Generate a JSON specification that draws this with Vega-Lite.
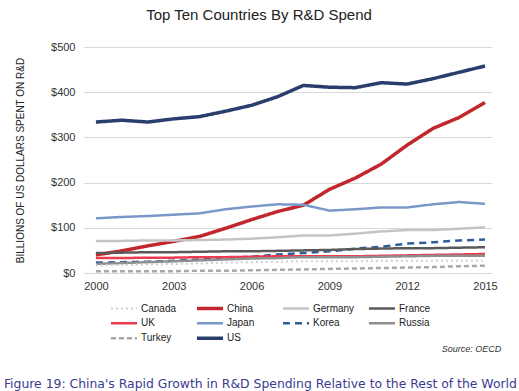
{
  "$schema": "https://vega.github.io/schema/vega-lite/v6.json",
  "background": "white",
  "padding": {"left": 3, "top": 8, "right": 2, "bottom": 2},
  "config": {"font": "Liberation Sans", "view": {"stroke": null}},
  "title": {"text": "Figure 19: China's Rapid Growth in R&D Spending Relative to the Rest of the World", "orient": "bottom", "anchor": "middle", "font": "DejaVu Sans", "fontSize": 12.4, "fontWeight": "normal", "color": "#3b3b8f", "offset": 24, "dx": 2},
  "vconcat": [
    {
      "title": {"text": "Source: OECD", "orient": "bottom", "anchor": "end", "fontSize": 9, "fontStyle": "italic", "fontWeight": "normal", "color": "#333333", "offset": 54, "dx": 4},
      "vconcat": [
        {
          "width": 408,
          "height": 226,
          "title": {"text": "Top Ten Countries By R&D Spend", "anchor": "middle", "fontSize": 15, "fontWeight": "normal", "color": "#222222", "offset": 18, "dx": -29},
          "data": {"values": [
            {"country":"US","year":2000,"value":334},{"country":"US","year":2001,"value":338},{"country":"US","year":2002,"value":334},{"country":"US","year":2003,"value":341},{"country":"US","year":2004,"value":346},{"country":"US","year":2005,"value":358},{"country":"US","year":2006,"value":371},{"country":"US","year":2007,"value":390},{"country":"US","year":2008,"value":415},{"country":"US","year":2009,"value":411},{"country":"US","year":2010,"value":410},{"country":"US","year":2011,"value":421},{"country":"US","year":2012,"value":418},{"country":"US","year":2013,"value":430},{"country":"US","year":2014,"value":444},{"country":"US","year":2015,"value":458},
            {"country":"China","year":2000,"value":40},{"country":"China","year":2001,"value":49},{"country":"China","year":2002,"value":60},{"country":"China","year":2003,"value":70},{"country":"China","year":2004,"value":81},{"country":"China","year":2005,"value":99},{"country":"China","year":2006,"value":118},{"country":"China","year":2007,"value":136},{"country":"China","year":2008,"value":150},{"country":"China","year":2009,"value":185},{"country":"China","year":2010,"value":210},{"country":"China","year":2011,"value":241},{"country":"China","year":2012,"value":283},{"country":"China","year":2013,"value":320},{"country":"China","year":2014,"value":344},{"country":"China","year":2015,"value":377},
            {"country":"Japan","year":2000,"value":121},{"country":"Japan","year":2001,"value":124},{"country":"Japan","year":2002,"value":126},{"country":"Japan","year":2003,"value":129},{"country":"Japan","year":2004,"value":132},{"country":"Japan","year":2005,"value":141},{"country":"Japan","year":2006,"value":147},{"country":"Japan","year":2007,"value":152},{"country":"Japan","year":2008,"value":151},{"country":"Japan","year":2009,"value":138},{"country":"Japan","year":2010,"value":141},{"country":"Japan","year":2011,"value":145},{"country":"Japan","year":2012,"value":145},{"country":"Japan","year":2013,"value":152},{"country":"Japan","year":2014,"value":157},{"country":"Japan","year":2015,"value":153},
            {"country":"Germany","year":2000,"value":71},{"country":"Germany","year":2001,"value":71},{"country":"Germany","year":2002,"value":72},{"country":"Germany","year":2003,"value":72},{"country":"Germany","year":2004,"value":73},{"country":"Germany","year":2005,"value":74},{"country":"Germany","year":2006,"value":76},{"country":"Germany","year":2007,"value":79},{"country":"Germany","year":2008,"value":83},{"country":"Germany","year":2009,"value":83},{"country":"Germany","year":2010,"value":87},{"country":"Germany","year":2011,"value":92},{"country":"Germany","year":2012,"value":95},{"country":"Germany","year":2013,"value":95},{"country":"Germany","year":2014,"value":98},{"country":"Germany","year":2015,"value":101},
            {"country":"Korea","year":2000,"value":23},{"country":"Korea","year":2001,"value":24},{"country":"Korea","year":2002,"value":25},{"country":"Korea","year":2003,"value":27},{"country":"Korea","year":2004,"value":30},{"country":"Korea","year":2005,"value":33},{"country":"Korea","year":2006,"value":36},{"country":"Korea","year":2007,"value":41},{"country":"Korea","year":2008,"value":44},{"country":"Korea","year":2009,"value":48},{"country":"Korea","year":2010,"value":54},{"country":"Korea","year":2011,"value":58},{"country":"Korea","year":2012,"value":65},{"country":"Korea","year":2013,"value":68},{"country":"Korea","year":2014,"value":72},{"country":"Korea","year":2015,"value":74},
            {"country":"France","year":2000,"value":44},{"country":"France","year":2001,"value":45},{"country":"France","year":2002,"value":46},{"country":"France","year":2003,"value":46},{"country":"France","year":2004,"value":47},{"country":"France","year":2005,"value":48},{"country":"France","year":2006,"value":48},{"country":"France","year":2007,"value":49},{"country":"France","year":2008,"value":50},{"country":"France","year":2009,"value":51},{"country":"France","year":2010,"value":53},{"country":"France","year":2011,"value":54},{"country":"France","year":2012,"value":55},{"country":"France","year":2013,"value":55},{"country":"France","year":2014,"value":56},{"country":"France","year":2015,"value":57},
            {"country":"UK","year":2000,"value":33},{"country":"UK","year":2001,"value":33},{"country":"UK","year":2002,"value":34},{"country":"UK","year":2003,"value":34},{"country":"UK","year":2004,"value":35},{"country":"UK","year":2005,"value":35},{"country":"UK","year":2006,"value":36},{"country":"UK","year":2007,"value":37},{"country":"UK","year":2008,"value":37},{"country":"UK","year":2009,"value":37},{"country":"UK","year":2010,"value":37},{"country":"UK","year":2011,"value":38},{"country":"UK","year":2012,"value":39},{"country":"UK","year":2013,"value":40},{"country":"UK","year":2014,"value":41},{"country":"UK","year":2015,"value":42},
            {"country":"Russia","year":2000,"value":20},{"country":"Russia","year":2001,"value":22},{"country":"Russia","year":2002,"value":24},{"country":"Russia","year":2003,"value":26},{"country":"Russia","year":2004,"value":28},{"country":"Russia","year":2005,"value":30},{"country":"Russia","year":2006,"value":32},{"country":"Russia","year":2007,"value":33},{"country":"Russia","year":2008,"value":35},{"country":"Russia","year":2009,"value":35},{"country":"Russia","year":2010,"value":35},{"country":"Russia","year":2011,"value":36},{"country":"Russia","year":2012,"value":37},{"country":"Russia","year":2013,"value":38},{"country":"Russia","year":2014,"value":38},{"country":"Russia","year":2015,"value":38},
            {"country":"Canada","year":2000,"value":17},{"country":"Canada","year":2001,"value":18},{"country":"Canada","year":2002,"value":19},{"country":"Canada","year":2003,"value":20},{"country":"Canada","year":2004,"value":21},{"country":"Canada","year":2005,"value":23},{"country":"Canada","year":2006,"value":24},{"country":"Canada","year":2007,"value":25},{"country":"Canada","year":2008,"value":26},{"country":"Canada","year":2009,"value":26},{"country":"Canada","year":2010,"value":26},{"country":"Canada","year":2011,"value":27},{"country":"Canada","year":2012,"value":27},{"country":"Canada","year":2013,"value":27},{"country":"Canada","year":2014,"value":27},{"country":"Canada","year":2015,"value":27},
            {"country":"Turkey","year":2000,"value":4},{"country":"Turkey","year":2001,"value":4},{"country":"Turkey","year":2002,"value":4},{"country":"Turkey","year":2003,"value":4},{"country":"Turkey","year":2004,"value":5},{"country":"Turkey","year":2005,"value":5},{"country":"Turkey","year":2006,"value":6},{"country":"Turkey","year":2007,"value":7},{"country":"Turkey","year":2008,"value":8},{"country":"Turkey","year":2009,"value":9},{"country":"Turkey","year":2010,"value":10},{"country":"Turkey","year":2011,"value":11},{"country":"Turkey","year":2012,"value":12},{"country":"Turkey","year":2013,"value":13},{"country":"Turkey","year":2014,"value":15},{"country":"Turkey","year":2015,"value":16}
          ]},
          "mark": {"type": "line", "strokeCap": "butt"},
          "encoding": {
            "x": {"field": "year", "type": "quantitative",
              "scale": {"domain": [1999.54, 2015.27], "nice": false, "zero": false},
              "axis": {"values": [2000, 2003, 2006, 2009, 2012, 2015], "format": "d", "title": null, "grid": false, "domain": false, "ticks": false, "labelFontSize": 11, "labelColor": "#333333", "labelPadding": 7}},
            "y": {"field": "value", "type": "quantitative",
              "scale": {"domain": [0, 500], "nice": false},
              "axis": {"values": [0, 100, 200, 300, 400, 500], "format": "$d", "title": "BILLIONS OF US DOLLARS SPENT ON R&D", "titleFontSize": 10, "titleFontWeight": "normal", "titleColor": "#222222", "titlePadding": 25, "grid": true, "gridColor": "#d9d9d9", "domain": false, "ticks": false, "labelFontSize": 11, "labelColor": "#333333", "labelPadding": 9}},
            "color": {"field": "country", "type": "nominal",
              "scale": {"domain": ["Canada", "China", "Germany", "France", "UK", "Japan", "Korea", "Russia", "Turkey", "US"],
                "range": ["#cfcfcf", "#c1272d", "#c4c4c4", "#595959", "#ee3a4f", "#7a97c9", "#2d5e9c", "#8f8f8f", "#a8a8a8", "#293e6d"]},
              "legend": {"orient": "none", "direction": "horizontal", "legendX": 25, "legendY": 254, "columns": 4, "title": null, "symbolType": "stroke", "symbolSize": 680, "clipHeight": 14.5, "labelFontSize": 10, "labelColor": "#222222", "labelOffset": 2, "columnPadding": 12, "rowPadding": 0, "gridAlign": "all", "labelLimit": 60}},
            "strokeDash": {"field": "country", "type": "nominal",
              "scale": {"domain": ["Canada", "China", "Germany", "France", "UK", "Japan", "Korea", "Russia", "Turkey", "US"],
                "range": [[2, 3], [1, 0], [1, 0], [1, 0], [1, 0], [1, 0], [7, 5], [1, 0], [5, 3], [1, 0]]}},
            "strokeWidth": {"field": "country", "type": "nominal",
              "scale": {"type": "ordinal", "domain": ["Canada", "China", "Germany", "France", "UK", "Japan", "Korea", "Russia", "Turkey", "US"],
                "range": [2, 3.5, 2.5, 2.5, 2.5, 2.5, 2.5, 2.5, 2.5, 3.5]}}
          }
        }
      ]
    }
  ]
}
